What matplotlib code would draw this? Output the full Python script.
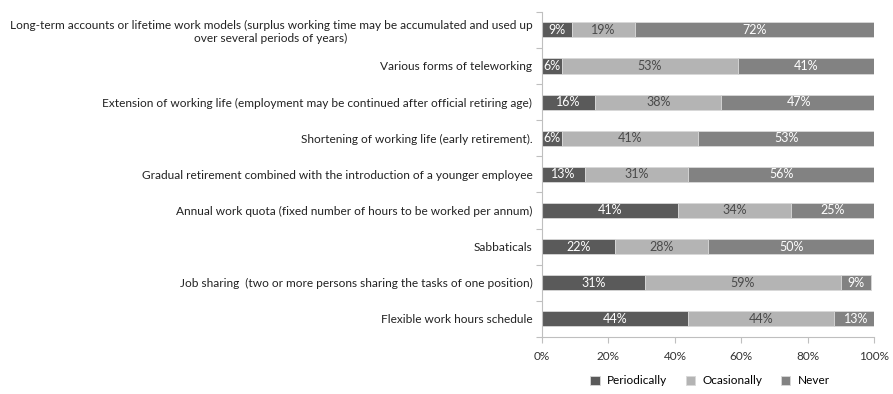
import numpy as np
import matplotlib.pyplot as plt

plt.rcParams['font.family'] = ['Lato', 'DejaVu Sans']

# categories, top to bottom
categories = [
    "Long-term accounts or lifetime work models (surplus working time may be accumulated and used up\nover several periods of years)",
    "Various forms of teleworking",
    "Extension of working life (employment may be continued after official retiring age)",
    "Shortening of working life (early retirement).",
    "Gradual retirement combined with the introduction of a younger employee",
    "Annual work quota (fixed number of hours to be worked per annum)",
    "Sabbaticals",
    "Job sharing  (two or more persons sharing the tasks of one position)",
    "Flexible work hours schedule",
]
periodically = [9, 6, 16, 6, 13, 41, 22, 31, 44]
ocasionally = [19, 53, 38, 41, 31, 34, 28, 59, 44]
never = [72, 41, 47, 53, 56, 25, 50, 9, 13]

series = [("Periodically", periodically, "#5a5a5a", "white"),
          ("Ocasionally", ocasionally, "#b4b4b4", "#4a4a4a"),
          ("Never", never, "#828282", "white")]

fig = plt.figure(figsize=(8.93, 3.94), dpi=100)
ax = fig.add_axes([0.607, 0.145, 0.372, 0.825])

y = np.arange(len(categories))[::-1]
left = np.zeros(len(categories))
for name, vals, col, tcol in series:
    vals = np.array(vals, dtype=float)
    ax.barh(y, vals, left=left, height=0.42, color=col, edgecolor="#d8d8d8",
            linewidth=0.6, label=name)
    for yi, l, v in zip(y, left, vals):
        ax.text(l + v / 2, yi, f"{int(v)}%", ha="center", va="center",
                fontsize=9, color=tcol)
    left += vals

ax.set_xlim(0, 100)
ax.set_ylim(-0.5, len(categories) - 0.5)
ax.set_xticks(np.arange(0, 101, 20))
ax.set_xticklabels([f"{t}%" for t in range(0, 101, 20)], fontsize=8.5, color="#333333")
ax.set_yticks(y)
ax.set_yticklabels(categories, fontsize=8.6, color="#222222")
for lab in ax.get_yticklabels():
    lab.set_multialignment("center")
ax.tick_params(axis="y", length=0, pad=7)
ax.set_yticks(np.arange(-0.5, len(categories), 1), minor=True)
ax.tick_params(axis="y", which="minor", length=4, color="#bfbfbf", width=0.8)
ax.tick_params(axis="x", length=4, color="#bfbfbf", width=0.8, pad=6)

for s in ["top", "right"]:
    ax.spines[s].set_visible(False)
for s in ["left", "bottom"]:
    ax.spines[s].set_color("#bfbfbf")
    ax.spines[s].set_linewidth(0.8)

fig.legend(*ax.get_legend_handles_labels(), loc="center", bbox_to_anchor=(0.795, 0.033),
           ncol=3, frameon=False, fontsize=8.5, handlelength=0.8, handleheight=0.8,
           columnspacing=1.6, handletextpad=0.6)

fig.savefig("out.png", dpi=100)
